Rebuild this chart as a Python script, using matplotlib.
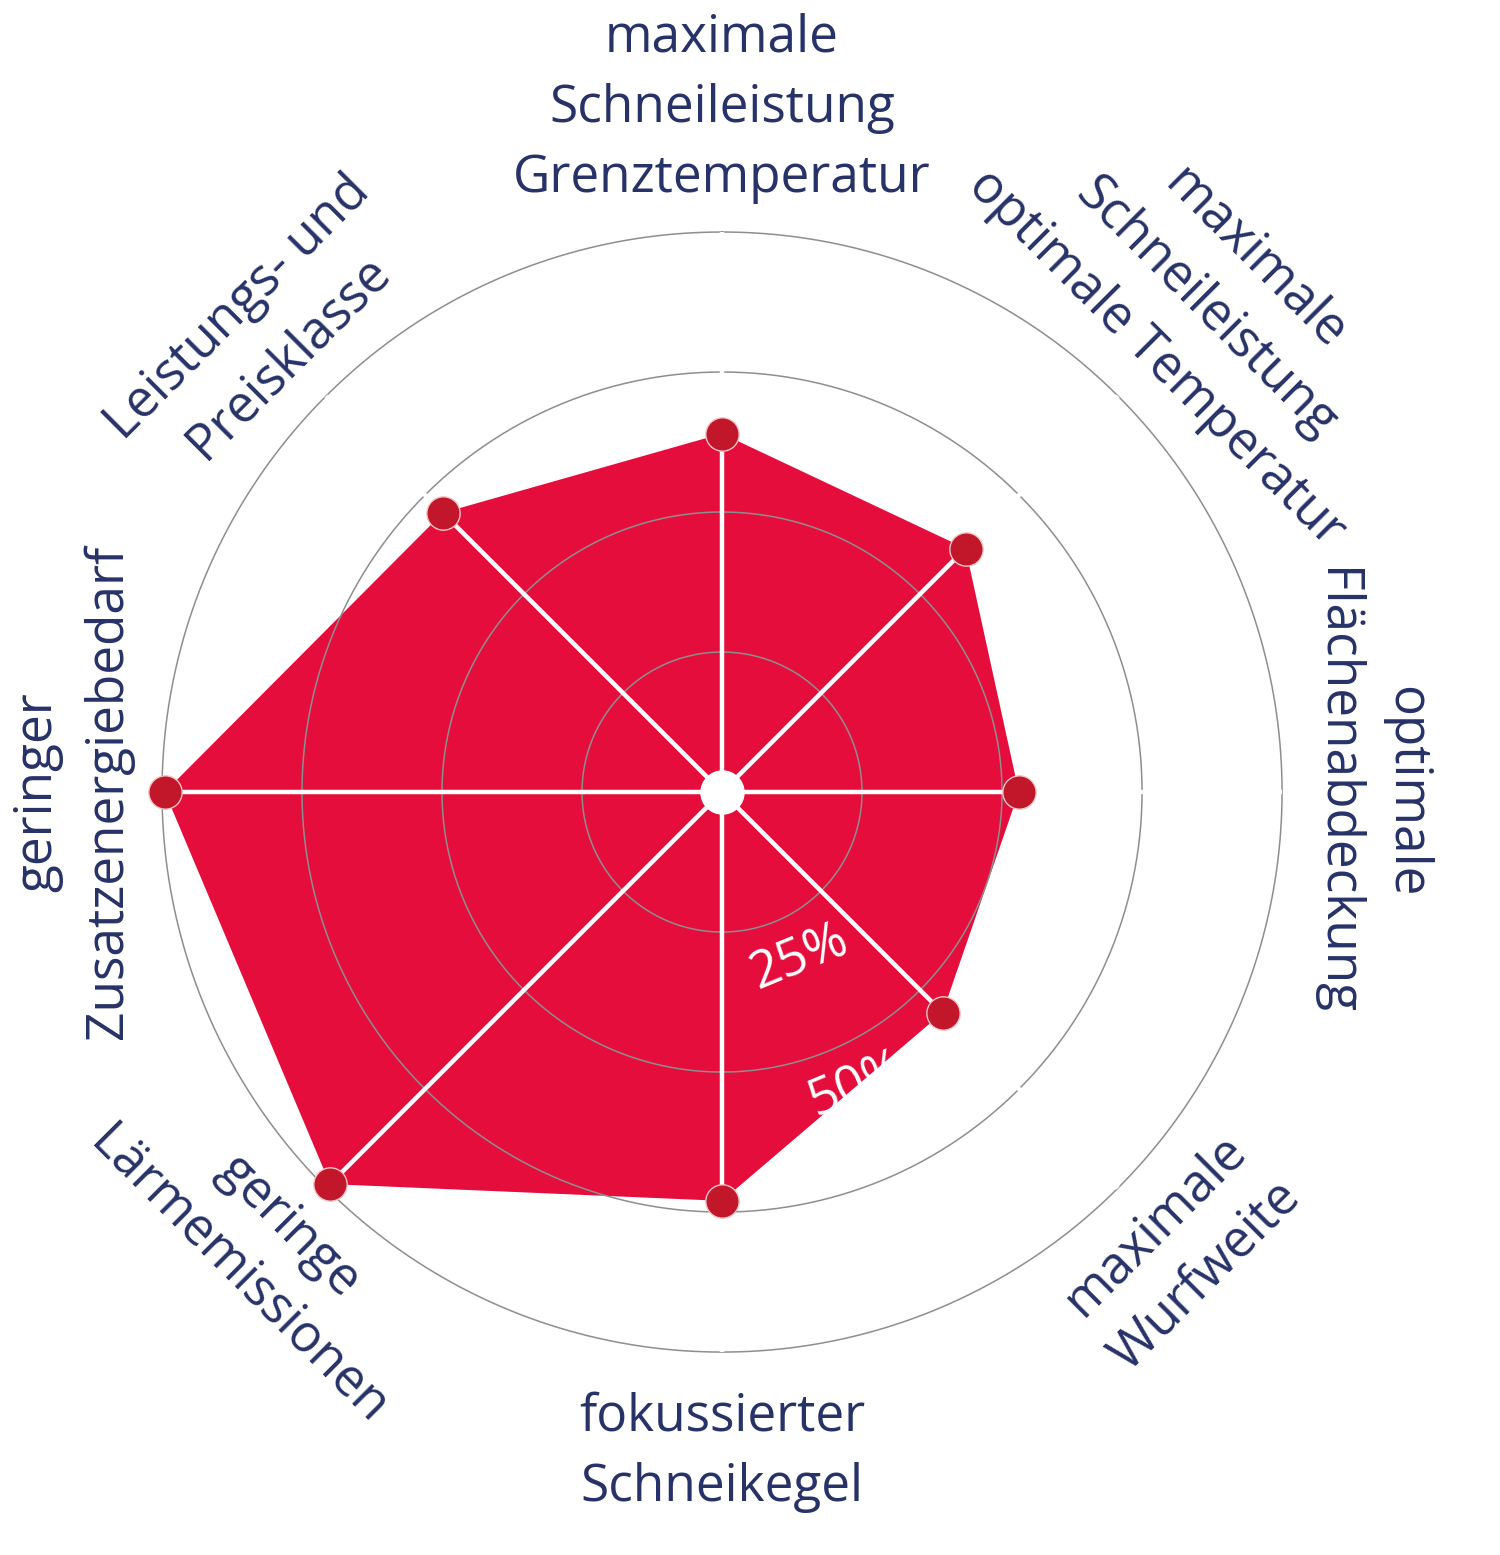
import numpy as np
import matplotlib
matplotlib.use("Agg")
import matplotlib.pyplot as plt

# ---- data ----
categories = [
    "maximale\nSchneileistung\nGrenztemperatur",
    "maximale\nSchneileistung\noptimale Temperatur",
    "optimale\nFlächenabdeckung",
    "maximale\nWurfweite",
    "fokussierter\nSchneikegel",
    "geringe\nLärmemissionen",
    "geringer\nZusatzenergiebedarf",
    "Leistungs- und\nPreisklasse",
]
values = [0.64, 0.615, 0.53, 0.557, 0.73, 0.99, 0.995, 0.705]
ring_levels = [0.25, 0.5, 0.75, 1.0]
ring_labels = ["25%", "50%", "75%", "100%"]

# ---- style ----
FILL = "#e50d3b"
MARK = "#c2172b"
NAVY = "#263268"
GRID = "#8e8e8e"
FONT = "Open Sans"

fig = plt.figure(figsize=(15, 15.55), dpi=100)
ax = fig.add_axes([0.108, 0.1305, 0.7467, 0.7203], projection="polar")
ax.set_theta_zero_location("N")
ax.set_theta_direction(-1)
ax.set_ylim(0, 1)
ax.grid(False)
ax.set_xticks([])
ax.set_yticks([])
ax.spines["polar"].set_visible(False)
ax.set_facecolor("none")

n = len(categories)
angles = np.arange(n) * 2 * np.pi / n

# filled area
ax.fill(np.append(angles, angles[0]), np.append(values, values[0]),
        color=FILL, lw=0, zorder=1)

# rings
tt = np.linspace(0, 2 * np.pi, 721)
for r in ring_levels:
    ax.plot(tt, np.full_like(tt, r), color=GRID, lw=1.1, zorder=2, clip_on=False)

# spokes
for a in angles:
    ax.plot([a, a], [0, 1.0], color="white", lw=3.2, solid_capstyle="butt",
            zorder=3, clip_on=False)

# ring labels (white, only visible on the red area)
lab_angle = np.deg2rad(155)
for r, t in zip(ring_levels, ring_labels):
    ax.text(lab_angle, r + 0.077, t, color="white", fontsize=37, family=FONT,
            rotation=22.5, rotation_mode="anchor", ha="center", va="center",
            zorder=4)

# center dot
ax.plot([0], [0], "o", ms=31, color="white", zorder=4)

# markers
ax.plot(angles, values, "o", ms=24, mfc=MARK, mec="#f2c4c4", mew=1.0,
        zorder=5, clip_on=False)

# category labels
label_r = 1.05
for a, lab in zip(angles, categories):
    deg = np.rad2deg(a)
    r = label_r
    if deg < 1 or deg > 359:
        rot, va = 0, "bottom"
    elif abs(deg - 45) < 1:
        rot, va = -45, "bottom"
    elif abs(deg - 90) < 1:
        rot, va = -90, "bottom"
    elif abs(deg - 135) < 1:
        rot, va = 45, "top"
    elif abs(deg - 180) < 1:
        rot, va = 0, "top"
        r = 1.07
    elif abs(deg - 225) < 1:
        rot, va = -45, "top"
    elif abs(deg - 270) < 1:
        rot, va = 90, "bottom"
    else:
        rot, va = 45, "bottom"
    ax.text(a, r, lab, color=NAVY, fontsize=37, family=FONT,
            rotation=rot, rotation_mode="anchor", ha="center", va=va,
            multialignment="center", linespacing=1.5, clip_on=False)

fig.savefig("out.png", dpi=100, facecolor="white")
